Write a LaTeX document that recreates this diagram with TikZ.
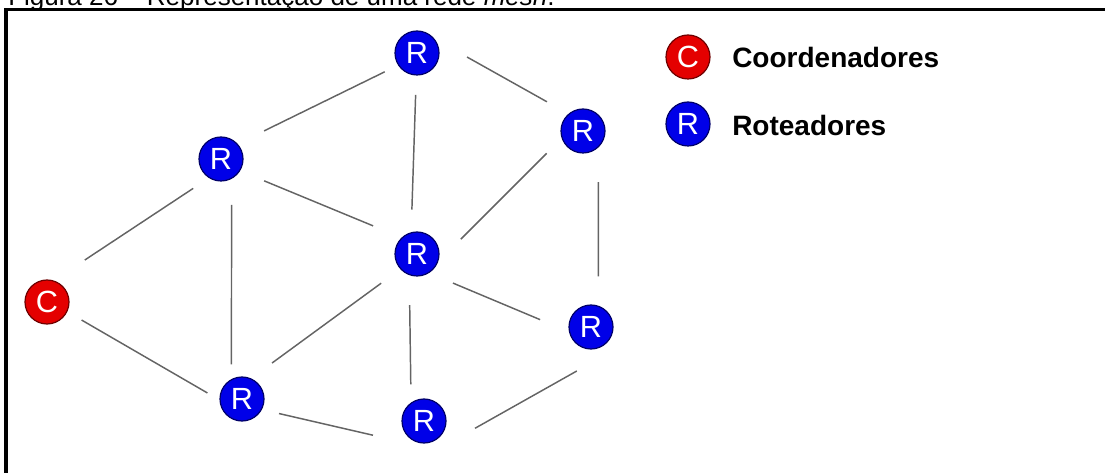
\documentclass[tikz,border=0pt]{standalone}
\usepackage{fontspec}
\setmainfont{Liberation Sans}
\definecolor{rblue}{RGB}{0,0,232}
\definecolor{rblueD}{RGB}{0,0,105}
\definecolor{cred}{RGB}{228,0,0}
\definecolor{credD}{RGB}{110,0,0}
\definecolor{linegray}{RGB}{100,100,100}
\tikzset{
  dev/.style={circle, minimum size=33pt, inner sep=0pt, line width=0.9pt,
    text=white, font=\fontsize{23}{23}\selectfont},
  router/.style={dev, fill=rblue, draw=rblueD},
  coord/.style={dev, fill=cred, draw=credD},
  link/.style={draw=linegray, line width=1.1pt},
  ends/.style 2 args={shorten <=#1pt, shorten >=#2pt},
  legendtext/.style={anchor=west, inner sep=0pt, font=\fontsize{21}{21}\selectfont\bfseries},
  frameline/.style={line width=2.6pt, line join=miter}
}
\begin{document}
\begin{tikzpicture}[x=0.75pt, y=-0.75pt]
\useasboundingbox (0,0) rectangle (1105,473);

% caption above the frame
\node[anchor=base west, inner sep=0pt, font=\fontsize{19.5}{19.5}\selectfont] (caption) at (8,6)
  {Figura 26 – Representação de uma rede \textit{mesh}.};

% frame
\coordinate (fbl) at (6,485);
\coordinate (fc) at (6,9.5);
\coordinate (ftr) at (1115,9.5);
\draw[frameline] (fbl) -- (fc) -- (ftr);

% devices
\node[coord]  (c)  at (47,302)  {C};
\node[router] (r1) at (417,53)  {R};
\node[router] (r2) at (221,159) {R};
\node[router] (r3) at (583,131) {R};
\node[router] (r4) at (417,254) {R};
\node[router] (r5) at (591,327) {R};
\node[router] (r6) at (242,399) {R};
\node[router] (r7) at (424,421) {R};

% links (hand-placed segments, slightly off the centre lines)
\draw[link, ends={34}{25}]     ([shift={(0,-17)}]c.center)  -- ([shift={(0,11)}]r2.center);
\draw[link, ends={30}{30}]     ([shift={(0,-2)}]c.center)   -- ([shift={(0,14)}]r6.center);
\draw[link, ends={36}{27}]     ([shift={(0,-7)}]r2.center)  -- ([shift={(0,3)}]r1.center);
\draw[link, ends={35}{35.6}]   ([shift={(0,4)}]r2.center)   -- ([shift={(0,-10)}]r4.center);
\draw[link, ends={31.5}{17}]   (r1.center) -- (r4.105);
\draw[link, ends={43}{31}]     ([shift={(0,-24)}]r1.center) -- ([shift={(0,-9)}]r3.center);
\draw[link, ends={38.5}{46.5}] ([shift={(0,-14)}]r3.center) -- ([shift={(0,29)}]r4.center);
\draw[link, ends={26}{22}]     (r3.-47) -- (r5.71.5);
\draw[link, ends={29.25}{41.4}]([shift={(0,14)}]r4.center)  -- ([shift={(0,14)}]r5.center);
\draw[link, ends={33.3}{27.9}] ([shift={(0,3)}]r4.center)   -- ([shift={(0,-14)}]r6.center);
\draw[link, ends={22.5}{13.5}] (r4.-110) -- (r7.125);
\draw[link, ends={19.5}{11}]   (r2.-62) -- (r6.118);
\draw[link, ends={28.5}{39.3}] ([shift={(0,6)}]r6.center)   -- ([shift={(0,26)}]r7.center);
\draw[link, ends={43.9}{12.2}] ([shift={(0,36)}]r7.center)  -- ([shift={(0,36)}]r5.center);

% legend
\node[coord]  (lc) at (688,57)  {C};
\node[router] (lr) at (688,124) {R};
\node[legendtext] (lct) at (732,57)  {Coordenadores};
\node[legendtext] (lrt) at (732,125) {Roteadores};
\end{tikzpicture}
\end{document}
